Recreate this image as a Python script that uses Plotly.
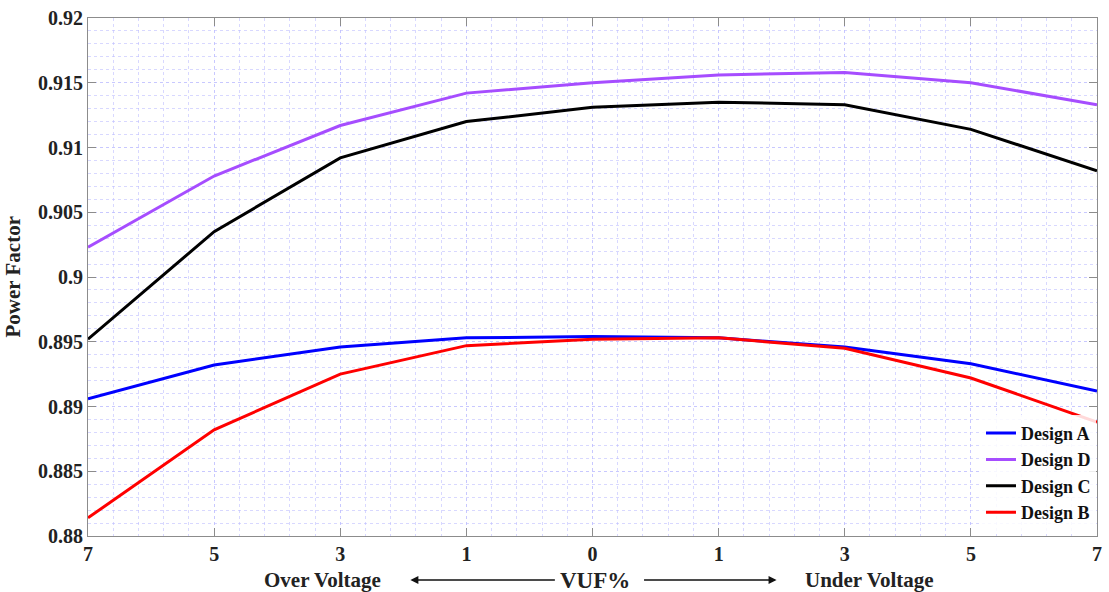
import plotly.graph_objects as go

# VUF% operating points: over-voltage side (left) to under-voltage side (right)
vuf_labels = ["7", "5", "3", "1", "0", "1", "3", "5", "7"]
positions = list(range(len(vuf_labels)))

design_a = [0.8906, 0.8932, 0.8946, 0.8953, 0.8954, 0.8953, 0.8946, 0.8933, 0.8912]
design_d = [0.9023, 0.9078, 0.9117, 0.9142, 0.9150, 0.9156, 0.9158, 0.9150, 0.9133]
design_c = [0.8952, 0.9035, 0.9092, 0.9120, 0.9131, 0.9135, 0.9133, 0.9114, 0.9082]
design_b = [0.8814, 0.8882, 0.8925, 0.8947, 0.8952, 0.8953, 0.8945, 0.8922, 0.8888]

y_ticks = [0.88, 0.885, 0.89, 0.895, 0.9, 0.905, 0.91, 0.915, 0.92]
y_tick_text = ["0.88", "0.885", "0.89", "0.895", "0.9", "0.905", "0.91", "0.915", "0.92"]

series = [
    ("Design A", design_a, "#0000ff"),
    ("Design D", design_d, "#a64dff"),
    ("Design C", design_c, "#000000"),
    ("Design B", design_b, "#ff0000"),
]

SERIF = "Liberation Serif, Times New Roman, serif"

fig = go.Figure()
for name, vals, color in series:
    fig.add_trace(go.Scatter(
        x=positions, y=vals, mode="lines", name=name,
        line=dict(color=color, width=3),
    ))

grid_color = "rgba(190,190,255,0.6)"
axis_common = dict(
    showline=True, linecolor="#8c8c8c", linewidth=1.2, mirror="ticks",
    ticks="inside", ticklen=8, tickcolor="#8c8c8c", tickwidth=1.2,
    showgrid=True, gridcolor=grid_color, griddash="dot", gridwidth=1,
    zeroline=False,
    tickfont=dict(family=SERIF, size=20, color="#222222", weight="bold"),
)

fig.update_xaxes(
    **axis_common,
    range=[0, 8], tickmode="array", tickvals=positions, ticktext=vuf_labels,
    minor=dict(dtick=0.2, showgrid=True, gridcolor=grid_color, griddash="dot", gridwidth=1),
)
fig.update_yaxes(
    **axis_common,
    range=[0.88, 0.92], tickmode="array", tickvals=y_ticks, ticktext=y_tick_text,
    minor=dict(dtick=0.001, showgrid=True, gridcolor=grid_color, griddash="dot", gridwidth=1),
)

label_font = dict(family=SERIF, size=21, color="#222222", weight="bold")
row_y = -0.085
annotations = [
    dict(text="Power Factor", x=-0.06, y=0.5, xref="paper", yref="paper",
         xanchor="right", yanchor="middle",
         textangle=-90, showarrow=False, font=dict(family=SERIF, size=21, color="#222222", weight="bold")),
    dict(text="Over Voltage", x=0.232, y=row_y, xref="paper", yref="paper",
         xanchor="center", yanchor="middle", showarrow=False, font=label_font),
    dict(text="VUF%", x=0.502, y=row_y, xref="paper", yref="paper",
         xanchor="center", yanchor="middle", showarrow=False,
         font=dict(family=SERIF, size=23, color="#222222", weight="bold")),
    dict(text="Under Voltage", x=0.775, y=row_y, xref="paper", yref="paper",
         xanchor="center", yanchor="middle", showarrow=False, font=label_font),
    # arrow pointing left toward the over-voltage side
    dict(text="", x=0.3195, y=row_y, xref="paper", yref="paper",
         showarrow=True, ax=146, ay=0, arrowhead=2, arrowsize=1,
         arrowwidth=1.6, arrowcolor="#111111", standoff=0, startstandoff=0),
    # arrow pointing right toward the under-voltage side
    dict(text="", x=0.6824, y=row_y, xref="paper", yref="paper",
         showarrow=True, ax=-134, ay=0, arrowhead=2, arrowsize=1,
         arrowwidth=1.6, arrowcolor="#111111", standoff=0, startstandoff=0),
]

fig.update_layout(
    width=1109, height=592,
    margin=dict(l=88, r=7, t=17, b=56),
    paper_bgcolor="white", plot_bgcolor="white",
    annotations=annotations,
    legend=dict(
        x=0.999, y=0.01, xanchor="right", yanchor="bottom",
        bgcolor="rgba(255,255,255,0.85)", borderwidth=0,
        font=dict(family=SERIF, size=18, color="#111111", weight="bold"),
        tracegroupgap=0, itemwidth=30,
    ),
    showlegend=True,
)

fig.write_html("out.html")
